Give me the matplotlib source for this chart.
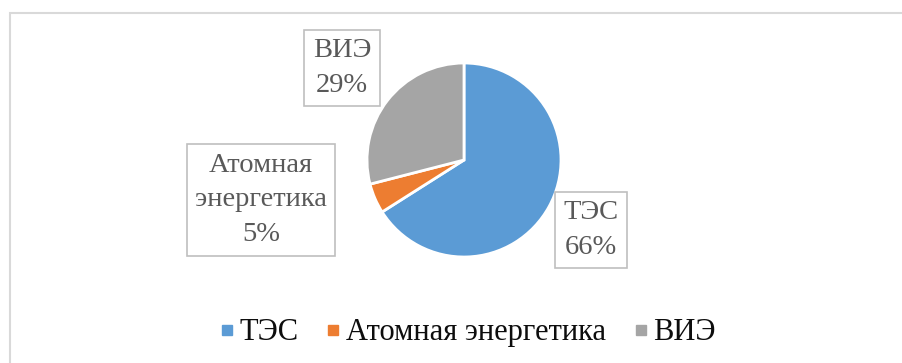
import matplotlib.pyplot as plt
import matplotlib.patches as mpatches
from matplotlib.lines import Line2D

# energy mix shares
categories = ['ТЭС', 'Атомная энергетика', 'ВИЭ']
shares = [66, 5, 29]
box_labels = ['ТЭС\n66%', 'Атомная\nэнергетика\n5%', 'ВИЭ\n29%']
colors = ['#5b9bd5', '#ed7d31', '#a5a5a5']

plt.rcParams['font.family'] = ['Liberation Serif', 'DejaVu Serif']

W, H = 903, 363
fig = plt.figure(figsize=(W / 100, H / 100), dpi=100)

# pie centre and radius in pixels
cx, cy, r = 464, 160, 97
ax = fig.add_axes([(cx - r) / W, (H - cy - r) / H, 2 * r / W, 2 * r / H])
ax.pie(shares, colors=colors, startangle=90, counterclock=False, radius=1,
       wedgeprops=dict(edgecolor='white', linewidth=2))
ax.set_xlim(-1, 1)
ax.set_ylim(-1, 1)
ax.set_aspect('equal')
ax.axis('off')

# boxed data labels, positions given in pixels
label_px = [(591, 230), (261, 200), (342, 68)]
for text, (px, py) in zip(box_labels, label_px):
    ax.text((px - cx) / r, (cy - py) / r, text, ha='center', va='center',
            fontsize=20.5, color='#595959', linespacing=1.5, clip_on=False,
            bbox=dict(boxstyle='square,pad=0.3', facecolor='white',
                      edgecolor='#bfbfbf', linewidth=1.2))

handles = [Line2D([], [], marker='s', linestyle='none', markersize=7,
                  markerfacecolor=c, markeredgecolor=c) for c in colors]
fig.legend(handles, categories, loc='center', bbox_to_anchor=(0.519, 0.083),
           ncol=3, frameon=False, fontsize=22, handletextpad=0.25,
           columnspacing=0.95, handlelength=0.35, labelcolor='#0d0d0d')

# chart area border
fig.patches.append(mpatches.Rectangle((10 / W, -0.1), 2, (H - 13) / H + 0.1,
                                      transform=fig.transFigure, fill=False,
                                      edgecolor='#d9d9d9', linewidth=1.5))

fig.savefig('out.png', dpi=100)
